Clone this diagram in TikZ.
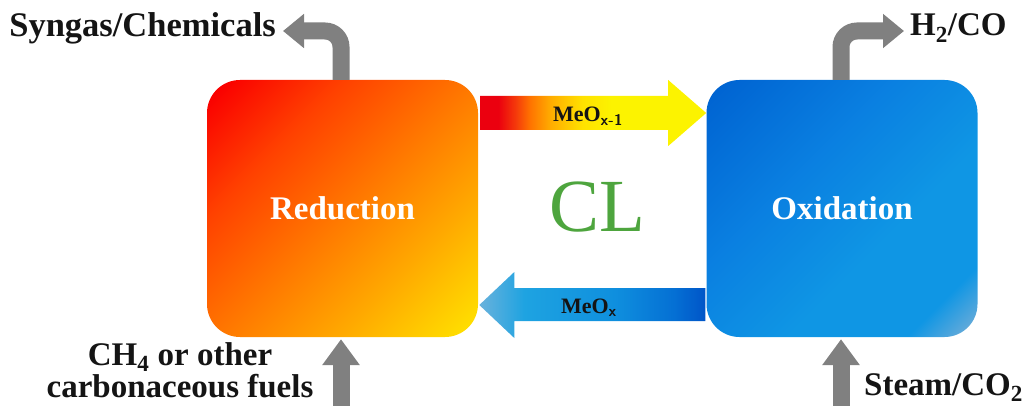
\documentclass[tikz,border=0pt]{standalone}
\usepackage{fontspec}
\setmainfont{Liberation Serif}
\usetikzlibrary{arrows.meta,calc}
\definecolor{cgray}{RGB}{128,128,128}
\definecolor{clgreen}{RGB}{78,165,62}
\definecolor{txt}{RGB}{20,20,20}
\definecolor{rA}{RGB}{250,0,0}
\definecolor{rB}{RGB}{255,65,0}
\definecolor{rC}{RGB}{255,118,0}
\definecolor{rD}{RGB}{255,170,0}
\definecolor{rE}{RGB}{255,225,0}
\definecolor{bA}{RGB}{0,100,210}
\definecolor{bB}{RGB}{10,128,225}
\definecolor{bC}{RGB}{15,150,228}
\definecolor{bD}{RGB}{120,175,215}
\definecolor{tA}{RGB}{235,0,15}
\definecolor{tB}{RGB}{245,60,10}
\definecolor{tC}{RGB}{255,115,0}
\definecolor{tD}{RGB}{255,172,0}
\definecolor{tF}{RGB}{255,225,0}
\definecolor{tE}{RGB}{252,243,0}
\definecolor{uA}{RGB}{105,178,220}
\definecolor{uB}{RGB}{30,163,225}
\definecolor{uC}{RGB}{15,143,222}
\definecolor{uD}{RGB}{5,112,212}
\definecolor{uE}{RGB}{0,85,200}
\pgfdeclarehorizontalshading{redbox}{100bp}{color(0bp)=(rA); color(17bp)=(rA); color(33bp)=(rB); color(50bp)=(rC); color(67bp)=(rD); color(84bp)=(rE); color(100bp)=(rE)}
\pgfdeclarehorizontalshading{bluebox}{100bp}{color(0bp)=(bA); color(17bp)=(bA); color(40bp)=(bB); color(60bp)=(bC); color(76bp)=(bC); color(85bp)=(bD); color(100bp)=(bD)}
\pgfdeclarehorizontalshading{toparrow}{100bp}{color(0bp)=(tA); color(25bp)=(tA); color(29bp)=(tA); color(33bp)=(tB); color(36bp)=(tC); color(40.5bp)=(tD); color(47.5bp)=(tF); color(54bp)=(tE); color(100bp)=(tE)}
\pgfdeclarehorizontalshading{botarrow}{100bp}{color(0bp)=(uA); color(25bp)=(uA); color(35bp)=(uB); color(55bp)=(uC); color(68bp)=(uD); color(75bp)=(uE); color(100bp)=(uE)}
\tikzset{
  procbox/.style={shade, rounded corners=33pt, minimum width=271pt, minimum height=257pt,
    inner sep=0pt, shading angle=-45, text=white, font=\bfseries\fontsize{33}{36}\selectfont},
  lbl/.style={text=txt, inner sep=0pt, font=\bfseries\fontsize{33}{32}\selectfont},
  flowlbl/.style={text=txt, inner sep=0pt, font=\bfseries\fontsize{22}{24}\selectfont},
  grayout/.style={draw=cgray, line width=17pt, rounded corners=16pt, -{Triangle[length=21pt,width=33pt]}},
  grayin/.style={draw=cgray, line width=17pt, -{Triangle[length=26pt,width=36pt]}}
}
\begin{document}
\begin{tikzpicture}[x=1pt,y=-1pt]
\useasboundingbox (0,0) rectangle (1027,406);
\node[procbox, shading=redbox] (reduction) at (342.5,208.5) {Reduction};
\node[procbox, shading=bluebox] (oxidation) at (842,208.5) {Oxidation};
% block arrows between the boxes
\shade[shading=toparrow] ([shift={(2,-112.5)}]reduction.east) -- ++(188,0) -- ++(0,-16) -- ++(38,33) -- ++(-38,33) -- ++(0,-16) -- ++(-188,0) -- cycle;
\shade[shading=botarrow] ([shift={(-1,79.5)}]oxidation.west) -- ++(-191,0) -- ++(0,-16) -- ++(-35,33) -- ++(35,33) -- ++(0,-17) -- ++(191,0) -- cycle;
\node[flowlbl, anchor=base] (meox1) at (588,122) {MeO\textsubscript{\sffamily x-1}};
\node[flowlbl, anchor=base] (meox) at (589,313) {MeO\textsubscript{\sffamily x}};
\node[text=clgreen, inner sep=0pt, font=\fontsize{75}{75}\selectfont] (cl) at (597,207) {CL};
% labels
\node[lbl, anchor=base east, font=\bfseries\fontsize{34.5}{30}\selectfont] (syn) at (276,37) {Syngas/Chemicals};
\node[lbl, anchor=base west] (h2) at (910,36) {H\textsubscript{2}/CO};
\node[lbl, align=center] (fuel) at (180,370) {CH\textsubscript{4} or other\\carbonaceous fuels};
\node[lbl, anchor=base west] (steam) at (864,395) {Steam/CO\textsubscript{2}};
% gray in/out arrows
\coordinate (synend) at (283,31);
\coordinate (h2end) at (904,31);
\coordinate (fuelin) at (341,406);
\coordinate (steamin) at (841,406);
\draw[grayout] ([xshift=-1.5pt]reduction.north) |- (synend);
\draw[grayout] ([xshift=-1pt]oxidation.north) |- (h2end);
\draw[grayin] (fuelin) -- ([shift={(-1.5,2)}]reduction.south);
\draw[grayin] (steamin) -- ([shift={(-1,2)}]oxidation.south);
\end{tikzpicture}
\end{document}
